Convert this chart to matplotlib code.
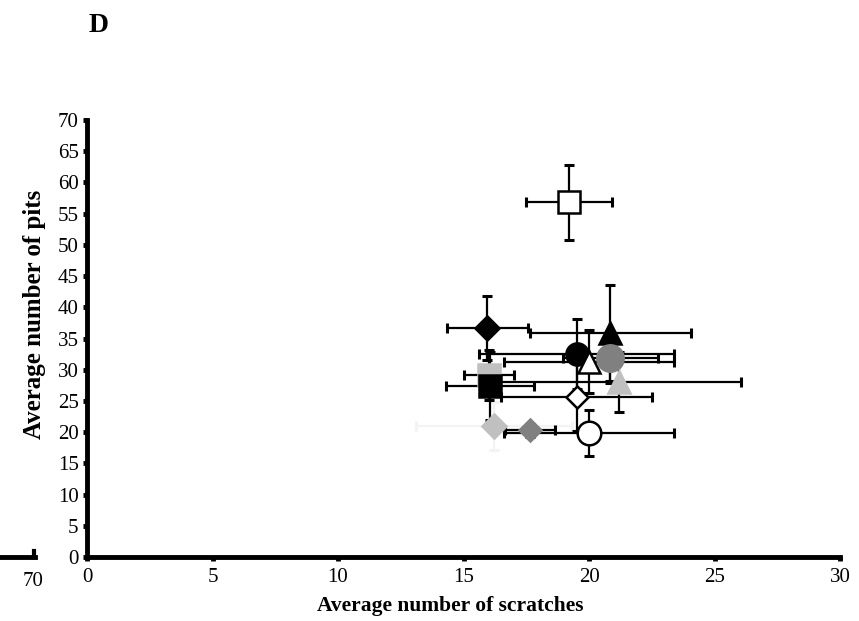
import matplotlib.pyplot as plt
from matplotlib.lines import Line2D

plt.rcParams['font.family'] = ['Liberation Serif', 'DejaVu Serif']

# 各处理组: 均值与误差
x_vals = [19.2, 15.95, 20.85, 19.5, 20.0, 20.85, 16.0, 16.05, 21.2, 19.5, 16.2, 17.65, 20.0]
y_vals = [56.8, 36.7, 35.9, 32.5, 31.3, 31.8, 29.2, 27.4, 28.1, 25.7, 21.0, 20.3, 19.9]
x_err = [1.7, 1.6, 3.2, 3.9, 3.4, 1.9, 1.0, 1.75, 4.85, 3.0, 3.1, 1.0, 3.4]
y_err = [6.0, 5.1, 7.7, 5.6, 5.0, 4.0, 4.0, 5.4, 4.8, 5.5, 3.9, 1.0, 3.7]

markers = ['s', 'D', '^', 'o', '^', 'o', 's', 's', '^', 'D', 'D', 'D', 'o']
faces = ['white', 'black', 'black', 'black', 'white', '#808080', '#c0c0c0', 'black',
         '#c0c0c0', 'white', '#c0c0c0', '#808080', 'white']
edges = ['black', 'black', 'black', 'black', 'black', '#808080', '#c0c0c0', 'black',
         '#c0c0c0', 'black', '#c0c0c0', '#808080', 'black']
sizes = [16, 12, 16, 16, 16, 19, 16, 16, 16, 11, 12, 11, 17]
err_colors = ['black'] * 13
err_colors[10] = '#f3f3f3'

x_ticks = [0, 5, 10, 15, 20, 25, 30]
y_ticks = list(range(0, 71, 5))

fig = plt.figure(figsize=(8.59, 6.21), dpi=100)
ax = fig.add_axes([0.1013, 0.103, 0.8767, 0.7038])

# 先画误差线, 再画点
for i in range(len(x_vals)):
    ax.errorbar(x_vals[i], y_vals[i], xerr=x_err[i], yerr=y_err[i], fmt='none',
                ecolor=err_colors[i], elinewidth=1.6, capsize=3.5, capthick=2.2,
                zorder=2 if i != 10 else 1)
for i in range(len(x_vals)):
    ax.plot(x_vals[i], y_vals[i], marker=markers[i], ms=sizes[i], mfc=faces[i],
            mec=edges[i], mew=1.8, ls='none', zorder=3)

ax.set_xlim(0, 30)
ax.set_ylim(0, 70)
ax.set_xticks(x_ticks)
ax.set_yticks(y_ticks)
for s in ['top', 'right']:
    ax.spines[s].set_visible(False)
for s in ['left', 'bottom']:
    ax.spines[s].set_linewidth(3.5)
ax.tick_params(direction='out', length=3, width=3.5, labelsize=15, pad=3)
ax.tick_params(axis='x', pad=5)

ax.set_xlabel('Average number of scratches', fontsize=15.5, fontweight='bold')
ax.set_ylabel('Average number of pits', fontsize=18, fontweight='bold')
ax.xaxis.set_label_coords(0.482, -0.09)
ax.yaxis.set_label_coords(-0.055, 0.555)

fig.text(0.103, 0.948, 'D', fontsize=20, fontweight='bold')

# 左下角残留的另一张图的坐标轴片段
fig.add_artist(Line2D([0, 0.041], [0.103, 0.103], color='black', lw=3.5))
fig.add_artist(Line2D([0.039, 0.039], [0.103, 0.113], color='black', lw=3))
fig.text(0.039, 0.056, '70', fontsize=15, ha='center')

fig.savefig('out.png', dpi=100)
